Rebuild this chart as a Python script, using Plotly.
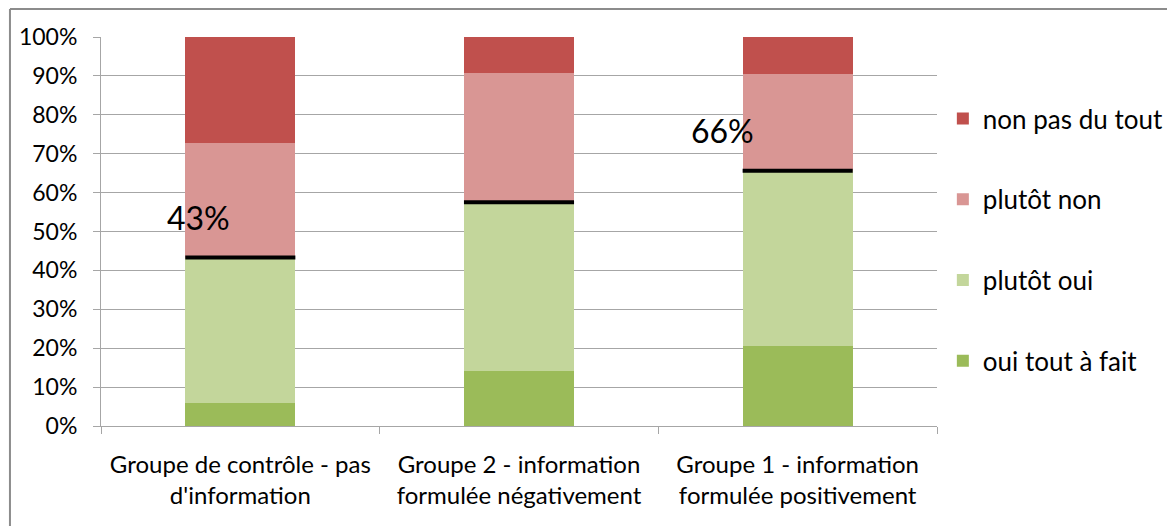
import plotly.graph_objects as go

categories = ["Groupe de contrôle - pas<br>d'information",
              "Groupe 2 - information<br>formulée négativement",
              "Groupe 1 - information<br>formulée positivement"]
oui_tout_a_fait = [6.0, 14.1, 20.6]
plutot_oui = [37.3, 43.4, 45.0]
plutot_non = [29.4, 33.3, 24.9]
non_pas_du_tout = [27.3, 9.2, 9.5]
y_ticks = [0, 10, 20, 30, 40, 50, 60, 70, 80, 90, 100]
labelled_groups = [0, 2]

FONT = "Lato"
BAR_W = 0.395
xs = list(range(len(categories)))

series = [
    ("oui tout à fait", oui_tout_a_fait, "#9BBB59"),
    ("plutôt oui", plutot_oui, "#C3D69B"),
    ("plutôt non", plutot_non, "#D99694"),
    ("non pas du tout", non_pas_du_tout, "#C0504D"),
]

fig = go.Figure()
n = len(series)
for i, (name, vals, col) in enumerate(series):
    fig.add_trace(go.Bar(x=xs, y=vals, name=name, width=BAR_W,
                         marker=dict(color=col, line=dict(width=0)),
                         legendgroup=name, legendrank=n - i))

# black line at the "oui" total
oui_total = [a + b for a, b in zip(oui_tout_a_fait, plutot_oui)]
lx, ly = [], []
for i, v in zip(xs, oui_total):
    lx += [i - BAR_W / 2, i + BAR_W / 2, None]
    ly += [v, v, None]
fig.add_trace(go.Scatter(x=lx, y=ly, mode="lines", line=dict(color="black", width=4),
                         showlegend=False, hoverinfo="skip"))

x_shift = {0: -0.15, 2: -0.27}
for g in labelled_groups:
    fig.add_annotation(x=xs[g] + x_shift[g], y=oui_total[g] + 10.4,
                       text=f"{round(oui_total[g])}%", showarrow=False,
                       font=dict(family=FONT, size=32, color="black"),
                       xanchor="center", yanchor="middle")

# page has an 8px body margin: figure is drawn at (8, 8)
fig.update_layout(
    width=1167, height=518,
    barmode="stack",
    plot_bgcolor="white", paper_bgcolor="white",
    margin=dict(l=93, r=238, t=29, b=100, autoexpand=False),
    font=dict(family=FONT, size=22, color="black"),
    legend=dict(x=1.007, y=0.478, xanchor="left", yanchor="middle",
                tracegroupgap=44, font=dict(size=26), itemwidth=30),
    xaxis=dict(range=[-0.5, 2.5], tickvals=xs, ticktext=categories,
               tickfont=dict(size=24), ticklabelstandoff=17,
               showgrid=False, zeroline=False, ticks="",
               showline=True, linecolor="#a6a6a6", linewidth=1,
               minor=dict(tick0=-0.5, dtick=1, ticks="outside", ticklen=7,
                          tickcolor="#a6a6a6", showgrid=False)),
    yaxis=dict(range=[0, 100], tickvals=y_ticks,
               ticktext=[f"{t}%" for t in y_ticks],
               tickfont=dict(size=23), ticklabelstandoff=11,
               showgrid=True, gridcolor="#a6a6a6", gridwidth=1,
               zeroline=False, showline=True, linecolor="#a6a6a6",
               ticks="outside", ticklen=7, tickcolor="#a6a6a6"),
    shapes=[
        dict(type="line", xref="paper", yref="paper",
             x0=-0.1089, x1=-0.1089, y0=1.072, y1=-0.26,
             line=dict(color="#8c8c8c", width=2), layer="below"),
        dict(type="line", xref="paper", yref="paper",
             x0=-0.1089, x1=1.29, y0=1.072, y1=1.072,
             line=dict(color="#8c8c8c", width=2), layer="below"),
    ],
)

fig.write_html("out.html")
